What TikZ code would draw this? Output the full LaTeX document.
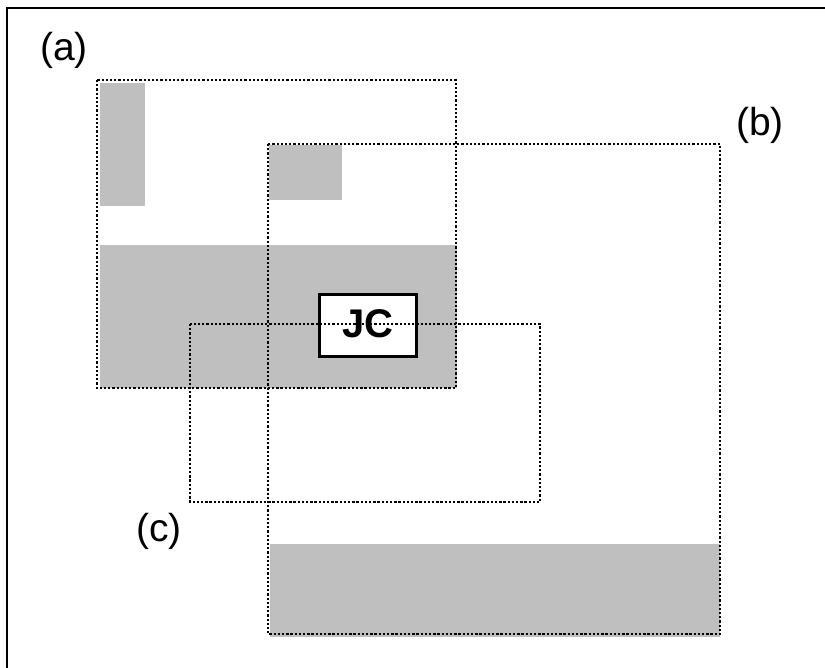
\documentclass[tikz,border=0pt]{standalone}
\usepackage{fontspec}
\setmainfont{Liberation Sans}
\begin{document}
\begin{tikzpicture}[x=1pt,y=-1pt,
  region/.style={draw=black,line width=2.4pt,dash pattern=on 2.3pt off 1.9pt},
  shade/.style={fill=black!25,draw=none},
  tag/.style={font=\fontsize{39}{44}\selectfont,inner sep=0pt},
  jcbox/.style={draw=black,line width=2.2pt,fill=white,font=\fontsize{40}{44}\selectfont\bfseries}]
  \useasboundingbox (0,0) rectangle (825,668);
  % outer frame (open to the right and bottom)
  \draw[line width=2.2pt] (825,8) -- (7,8) -- (7,668);
  % shaded blocks
  \fill[shade] (100,83) rectangle (145,206);
  \fill[shade] (100,245) rectangle (457,388);
  \fill[shade] (269,145) rectangle (342,200);
  \fill[shade] (270,544) rectangle (720,637);
  % regions (a) and (b)
  \draw[region] (97,80) rectangle (456,388);
  \draw[region] (268,144) rectangle (720,634);
  % JC marker
  \node[jcbox,minimum width=97pt,minimum height=62pt,inner sep=0pt] (jc) at (368,325.5) {\raisebox{3pt}{JC}};
  % region (c)
  \draw[region] (190,324) rectangle (540,502);
  % labels
  \node[tag] (la) at (64,50) {(a)};
  \node[tag] (lb) at (760,125) {(b)};
  \node[tag] (lc) at (159,531) {(c)};
\end{tikzpicture}
\end{document}
